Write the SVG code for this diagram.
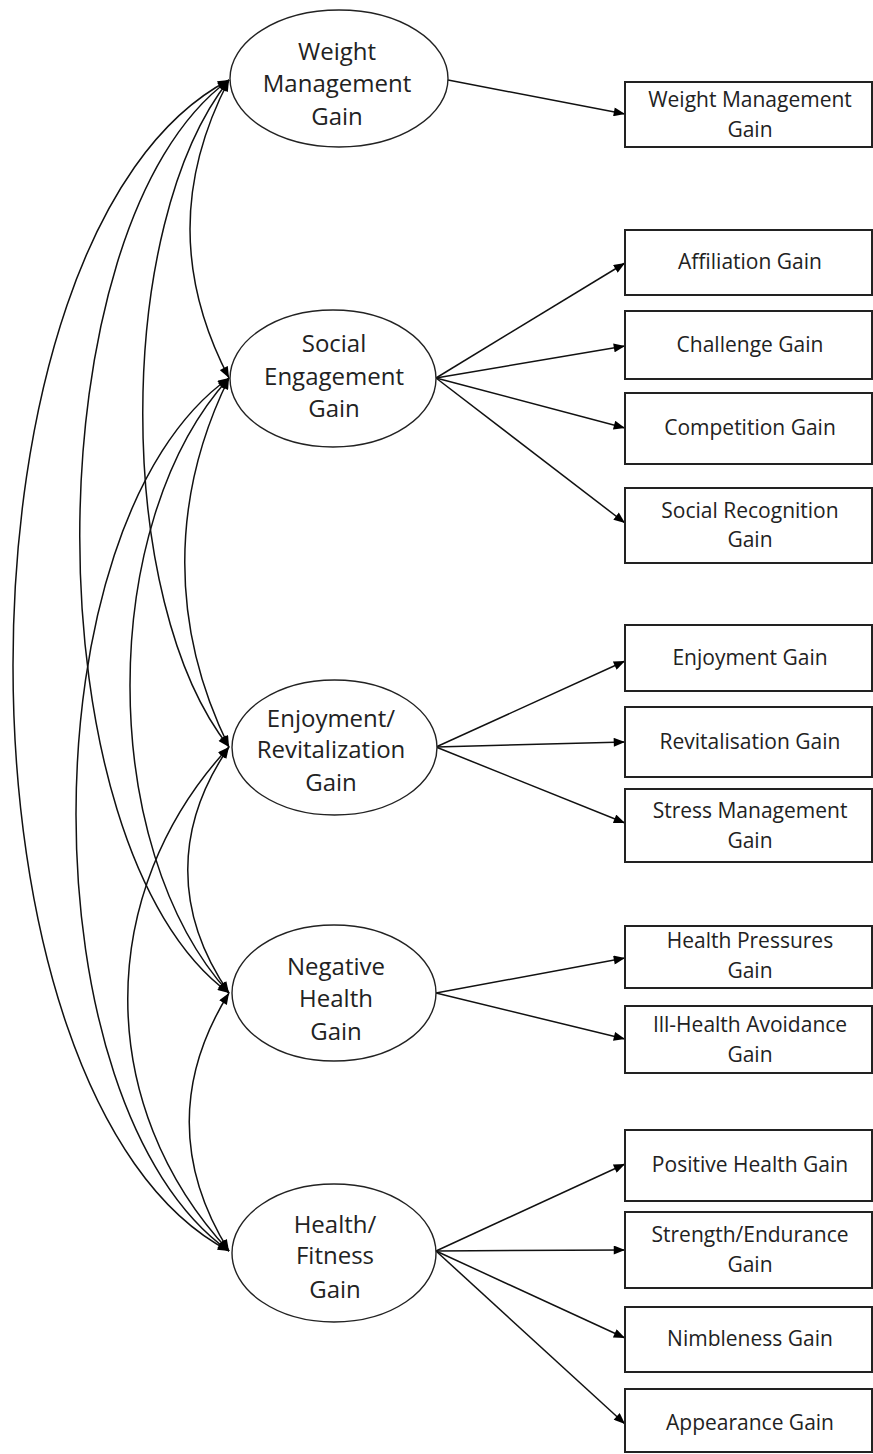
<svg xmlns="http://www.w3.org/2000/svg" width="873" height="1454" viewBox="0 0 873 1454">
<style>
.bg{fill:#fff}
.ell{fill:#fff;stroke:#222;stroke-width:1.4}
.box{fill:#fff;stroke:#222;stroke-width:2}
.lt{font-family:"Open Sans","Noto Sans",sans-serif;font-size:24px;fill:#222;text-anchor:middle}
.bt{font-family:"Open Sans","Noto Sans",sans-serif;font-size:21px;fill:#222;text-anchor:middle}
.ln{fill:none;stroke:#111;stroke-width:1.5}
.cv{fill:none;stroke:#111;stroke-width:1.5;marker-start:url(#ah);marker-end:url(#ah)}
.ar{marker-end:url(#ah)}
</style>
<defs>
<marker id="ah" viewBox="0 0 10 8" refX="10" refY="4" markerWidth="12" markerHeight="9" markerUnits="userSpaceOnUse" orient="auto-start-reverse">
<path d="M0,0 L10,4 L0,8 z" fill="#000"/>
</marker>
</defs>
<rect class="bg" x="0" y="0" width="873" height="1454"/>

<g id="connectors">
<path class="cv" d="M229,80 C177,180 177,278 229,378"/>
<path class="cv" d="M229,378 C170,498 170,627 229,747"/>
<path class="cv" d="M229,747 C174,827 174,913 229,993"/>
<path class="cv" d="M229,993 C176,1078 176,1166 229,1251"/>
<path class="cv" d="M229,80 C114,225 114,602 229,747"/>
<path class="cv" d="M229,378 C97,523 97,848 229,993"/>
<path class="cv" d="M229,747 C94,892 94,1106 229,1251"/>
<path class="cv" d="M229,80 C30,225 30,848 229,993"/>
<path class="cv" d="M229,378 C25,523 25,1106 229,1251"/>
<path class="cv" d="M229,80 C-59,230 -59,1101 229,1251"/>

<line class="ln ar" x1="448" y1="80" x2="625" y2="114"/>
<line class="ln ar" x1="436" y1="378" x2="625" y2="263"/>
<line class="ln ar" x1="436" y1="378" x2="625" y2="346"/>
<line class="ln ar" x1="436" y1="378" x2="625" y2="428"/>
<line class="ln ar" x1="436" y1="378" x2="625" y2="523"/>
<line class="ln ar" x1="436" y1="747" x2="625" y2="661"/>
<line class="ln ar" x1="436" y1="747" x2="625" y2="742"/>
<line class="ln ar" x1="436" y1="747" x2="625" y2="823"/>
<line class="ln ar" x1="436" y1="993" x2="625" y2="958"/>
<line class="ln ar" x1="436" y1="993" x2="625" y2="1039"/>
<line class="ln ar" x1="436" y1="1251" x2="625" y2="1164"/>
<line class="ln ar" x1="436" y1="1251" x2="625" y2="1250"/>
<line class="ln ar" x1="436" y1="1251" x2="625" y2="1338"/>
<line class="ln ar" x1="436" y1="1251" x2="625" y2="1424"/>
</g>

<g id="f_weight">
<ellipse class="ell" cx="339" cy="78.5" rx="109" ry="68.5"/>
<text class="lt" x="337" y="60">Weight</text>
<text class="lt" x="337" y="92">Management</text>
<text class="lt" x="337" y="125">Gain</text>
</g>
<g id="f_social">
<ellipse class="ell" cx="333" cy="378.5" rx="103" ry="68.5"/>
<text class="lt" x="334" y="352">Social</text>
<text class="lt" x="334" y="385">Engagement</text>
<text class="lt" x="334" y="417">Gain</text>
</g>
<g id="f_enjoy">
<ellipse class="ell" cx="334.5" cy="747.5" rx="102.5" ry="67.5"/>
<text class="lt" x="331" y="727">Enjoyment/</text>
<text class="lt" x="331" y="758">Revitalization</text>
<text class="lt" x="331" y="791">Gain</text>
</g>
<g id="f_negative">
<ellipse class="ell" cx="334" cy="993" rx="102" ry="68"/>
<text class="lt" x="336" y="975">Negative</text>
<text class="lt" x="336" y="1007">Health</text>
<text class="lt" x="336" y="1040">Gain</text>
</g>
<g id="f_health">
<ellipse class="ell" cx="334" cy="1253" rx="102" ry="69"/>
<text class="lt" x="335" y="1233">Health/</text>
<text class="lt" x="335" y="1264">Fitness</text>
<text class="lt" x="335" y="1298">Gain</text>
</g>

<g id="b_wm">
<rect class="box" x="625" y="82" width="247" height="65"/>
<text class="bt" x="750" y="107">Weight Management</text>
<text class="bt" x="750" y="137">Gain</text>
</g>
<g id="b_aff">
<rect class="box" x="625" y="230" width="247" height="65"/>
<text class="bt" x="750" y="269">Affiliation Gain</text>
</g>
<g id="b_chal">
<rect class="box" x="625" y="311" width="247" height="68"/>
<text class="bt" x="750" y="352">Challenge Gain</text>
</g>
<g id="b_comp">
<rect class="box" x="625" y="393" width="247" height="71"/>
<text class="bt" x="750" y="435">Competition Gain</text>
</g>
<g id="b_sr">
<rect class="box" x="625" y="488" width="247" height="75"/>
<text class="bt" x="750" y="518">Social Recognition</text>
<text class="bt" x="750" y="547">Gain</text>
</g>
<g id="b_enj">
<rect class="box" x="625" y="625" width="247" height="66"/>
<text class="bt" x="750" y="665">Enjoyment Gain</text>
</g>
<g id="b_rev">
<rect class="box" x="625" y="707" width="247" height="70"/>
<text class="bt" x="750" y="749">Revitalisation Gain</text>
</g>
<g id="b_stress">
<rect class="box" x="625" y="789" width="247" height="73"/>
<text class="bt" x="750" y="818">Stress Management</text>
<text class="bt" x="750" y="848">Gain</text>
</g>
<g id="b_hp">
<rect class="box" x="625" y="926" width="247" height="62"/>
<text class="bt" x="750" y="948">Health Pressures</text>
<text class="bt" x="750" y="978">Gain</text>
</g>
<g id="b_ill">
<rect class="box" x="625" y="1006" width="247" height="67"/>
<text class="bt" x="750" y="1032">Ill-Health Avoidance</text>
<text class="bt" x="750" y="1062">Gain</text>
</g>
<g id="b_pos">
<rect class="box" x="625" y="1130" width="247" height="71"/>
<text class="bt" x="750" y="1172">Positive Health Gain</text>
</g>
<g id="b_str">
<rect class="box" x="625" y="1212" width="247" height="76"/>
<text class="bt" x="750" y="1242">Strength/Endurance</text>
<text class="bt" x="750" y="1272">Gain</text>
</g>
<g id="b_nim">
<rect class="box" x="625" y="1307" width="247" height="65"/>
<text class="bt" x="750" y="1346">Nimbleness Gain</text>
</g>
<g id="b_app">
<rect class="box" x="625" y="1389" width="247" height="63"/>
<text class="bt" x="750" y="1430">Appearance Gain</text>
</g>
</svg>
